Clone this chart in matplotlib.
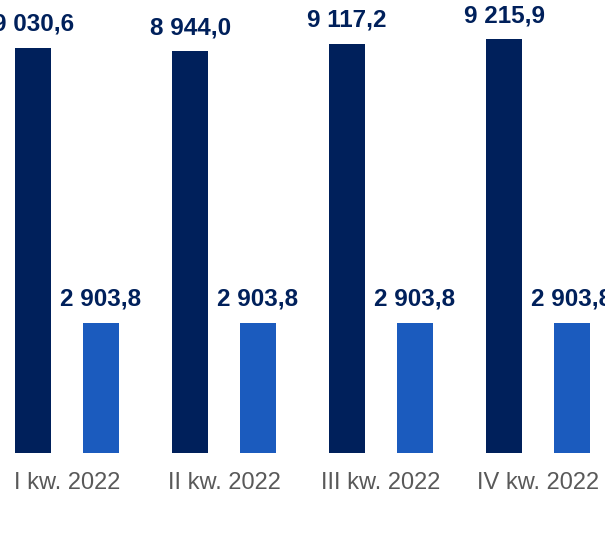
import numpy as np
import matplotlib.pyplot as plt

plt.rcParams['font.family'] = ['Liberation Sans', 'DejaVu Sans']

quarters = ["I kw. 2022", "II kw. 2022", "III kw. 2022", "IV kw. 2022"]
dark_vals = [9030.6, 8944.0, 9117.2, 9215.9]
light_vals = [2903.8, 2903.8, 2903.8, 2903.8]

dark_col = "#00205B"
light_col = "#1B5BBE"


def fmt(v):
    s = "{:,.1f}".format(v)
    return s.replace(",", " ").replace(".", ",")


fig = plt.figure(figsize=(6.05, 5.44), dpi=100)
ax = fig.add_axes([0, 91 / 544, 1, 453 / 544])

x = np.arange(len(quarters))
off = 0.215
w = 0.229
b1 = ax.bar(x - off, dark_vals, w, color=dark_col)
b2 = ax.bar(x + off, light_vals, w, color=light_col)

for bars, vals in ((b1, dark_vals), (b2, light_vals)):
    for r, v in zip(bars, vals):
        ax.annotate(fmt(v), (r.get_x() + r.get_width() / 2, r.get_height()),
                    xytext=(0, 8.5), textcoords="offset points",
                    ha="center", va="bottom", fontsize=17.5, fontweight="bold",
                    color=dark_col, annotation_clip=False)

ax.set_xlim(-0.427, 3.427)
ax.set_ylim(0, 10090)
ax.set_xticks(x)
ax.set_xticklabels(quarters, fontsize=17, color="#595959")
ax.tick_params(axis="x", length=0, pad=14)
ax.set_yticks([])
for s in ax.spines.values():
    s.set_visible(False)

fig.savefig("out.png", dpi=100)
